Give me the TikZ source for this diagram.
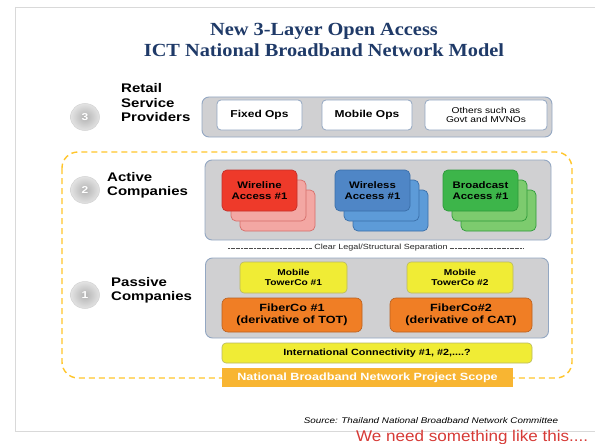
\documentclass[tikz,border=0pt]{standalone}
\usepackage{fontspec}
\setmainfont[FakeStretch=1.2]{Liberation Sans}
\newfontfamily\titlefont[FakeStretch=1.1]{Liberation Serif}
\newfontfamily\notefont[FakeStretch=1.1]{Liberation Sans}
\definecolor{navy}{HTML}{1F3A68}
\definecolor{panel}{HTML}{D0D0D2}
\definecolor{panelline}{HTML}{93A7C2}
\definecolor{gold}{HTML}{FFC52A}
\definecolor{redF}{HTML}{EE3A2A}
\definecolor{redB}{HTML}{F3A7A3}
\definecolor{redL}{HTML}{C4302A}
\definecolor{blueF}{HTML}{4F86C6}
\definecolor{blueB}{HTML}{5D9BD8}
\definecolor{blueL}{HTML}{3A6EA8}
\definecolor{greenF}{HTML}{3DB54A}
\definecolor{greenB}{HTML}{7DCB6E}
\definecolor{greenL}{HTML}{2E9A3A}
\definecolor{yel}{HTML}{F0EC35}
\definecolor{yelL}{HTML}{B8B860}
\definecolor{orng}{HTML}{F07E25}
\definecolor{orngL}{HTML}{B86020}
\definecolor{scope}{HTML}{F8B532}
\definecolor{redtxt}{HTML}{D63A36}
\tikzset{
  panelbox/.style={draw=panelline, line width=0.9pt, fill=panel, rounded corners=7pt, inner sep=0pt},
  opsbox/.style={draw=panelline, line width=0.8pt, fill=white, rounded corners=4pt, inner sep=0pt, align=center},
  card/.style={rounded corners=5pt, minimum width=75pt, minimum height=41pt, inner sep=0pt, line width=0.7pt, align=center, font=\bfseries\fontsize{9.5}{11}\selectfont},
  yelbox/.style={draw=yelL, fill=yel, rounded corners=4pt, inner sep=0pt, line width=0.6pt, align=center},
  orbox/.style={draw=orngL, fill=orng, rounded corners=6pt, inner sep=0pt, line width=0.6pt, align=center, font=\bfseries\fontsize{10.5}{12.5}\selectfont},
  ballnum/.style={ellipse, minimum width=29pt, minimum height=27pt, inner sep=0pt, shade, inner color=gray!60, outer color=gray!22, draw=gray!35, line width=0.5pt, text=white, font=\bfseries\fontsize{10}{10}\selectfont},
  layerlab/.style={anchor=west, align=left, inner sep=0pt, font=\bfseries\fontsize{12.5}{14.5}\selectfont},
}
\usetikzlibrary{shapes.geometric}
\begin{document}
\begin{tikzpicture}[x=1pt,y=-1pt]
\useasboundingbox (0,0) rectangle (595,444);
% slide frame
\draw[gray!30, line width=0.8pt] (15,7) -- (600,7);
\draw[gray!30, line width=0.8pt] (15,7) -- (15,431) -- (600,431);
% title
\node[text=navy, align=center, font=\titlefont\bfseries\fontsize{18.5}{21}\selectfont] (title) at (324,39.5)
  {New 3-Layer Open Access\\ICT National Broadband Network Model};
% dashed scope region
\draw[gold, line width=1.4pt, dash pattern=on 6pt off 4pt, rounded corners=16pt] (62,152) rectangle (572,378);
% retail layer
\node[panelbox, minimum width=350pt, minimum height=40pt] (retail) at (377,117) {};
\node[opsbox, minimum width=85pt, minimum height=30pt, font=\bfseries\fontsize{10}{11}\selectfont] (fixed) at (259.5,115) {Fixed Ops};
\node[opsbox, minimum width=90pt, minimum height=30pt, font=\bfseries\fontsize{10}{11}\selectfont] (mobile) at (367,115) {Mobile Ops};
\node[opsbox, minimum width=122pt, minimum height=30pt, font=\fontsize{8.5}{9.5}\selectfont] (others) at (486,115) {Others such as\\Govt and MVNOs};
% active layer
\node[panelbox, minimum width=346pt, minimum height=80pt] (active) at (378,200) {};
\node[card, draw=redL!70, fill=redB] (wl3) at (277.5,210.5) {};
\node[card, draw=redL!70, fill=redB] (wl2) at (268.5,200.5) {};
\node[card, draw=redL, fill=redF] (wl1) at (259.5,190.5) {Wireline\\Access \#1};
\node[card, draw=blueL, fill=blueB] (ws3) at (390.5,210.5) {};
\node[card, draw=blueL, fill=blueB] (ws2) at (381.5,200.5) {};
\node[card, draw=blueL, fill=blueF] (ws1) at (372.5,190.5) {Wireless\\Access \#1};
\node[card, draw=greenL, fill=greenB] (bc3) at (498.5,210.5) {};
\node[card, draw=greenL, fill=greenB] (bc2) at (489.5,200.5) {};
\node[card, draw=greenL, fill=greenF] (bc1) at (480.5,190.5) {Broadcast\\Access \#1};
% separation
\node[font=\fontsize{7.5}{8}\selectfont, text=black!85, inner sep=2pt] (sep) at (381,248) {Clear Legal/Structural Separation};
\coordinate (sepL) at (228,248);
\coordinate (sepR) at (523,248);
\draw[black!70, line width=0.6pt, dash pattern=on 2pt off 0.6pt] (sepL) -- (sep.west);
\draw[black!70, line width=0.6pt, dash pattern=on 2pt off 0.6pt] (sep.east) -- (sepR);
% passive layer
\node[panelbox, minimum width=343pt, minimum height=80pt] (passive) at (377,298) {};
\node[yelbox, minimum width=107pt, minimum height=31pt, font=\bfseries\fontsize{8.5}{10}\selectfont] (tower1) at (293.5,277.5) {Mobile\\TowerCo \#1};
\node[yelbox, minimum width=106pt, minimum height=31pt, font=\bfseries\fontsize{8.5}{10}\selectfont] (tower2) at (460,277.5) {Mobile\\TowerCo \#2};
\node[orbox, minimum width=140pt, minimum height=34pt] (fiber1) at (292,315) {FiberCo \#1\\(derivative of TOT)};
\node[orbox, minimum width=142pt, minimum height=34pt] (fiber2) at (461,315) {FiberCo\#2\\(derivative of CAT)};
\node[yelbox, minimum width=310pt, minimum height=20pt, font=\bfseries\fontsize{9}{10}\selectfont] (intl) at (377,353) {International Connectivity \#1, \#2,....?};
% scope label
\node[fill=scope, minimum width=291pt, minimum height=19pt, inner sep=0pt, text=white, font=\bfseries\fontsize{10.5}{12}\selectfont] (scopelab) at (367.5,377.5) {National Broadband Network Project Scope};
% layer numbers and labels
\node[ballnum] (n3) at (85,117) {3};
\node[ballnum] (n2) at (85,190) {2};
\node[ballnum] (n1) at (85,295) {1};
\node[layerlab] (l3) at (121,103) {Retail\\Service\\Providers};
\node[layerlab] (l2) at (107,185.5) {Active\\Companies};
\node[layerlab] (l1) at (111,290.5) {Passive\\Companies};
% source and note
\node[font=\itshape\fontsize{8.2}{9}\selectfont, inner sep=0pt] (src) at (431,421) {Source: Thailand National Broadband Network Committee};
\node[anchor=west, text=redtxt, font=\notefont\fontsize{15.5}{16}\selectfont, inner sep=0pt] (note) at (356,437) {We need something like this....};
\end{tikzpicture}
\end{document}
